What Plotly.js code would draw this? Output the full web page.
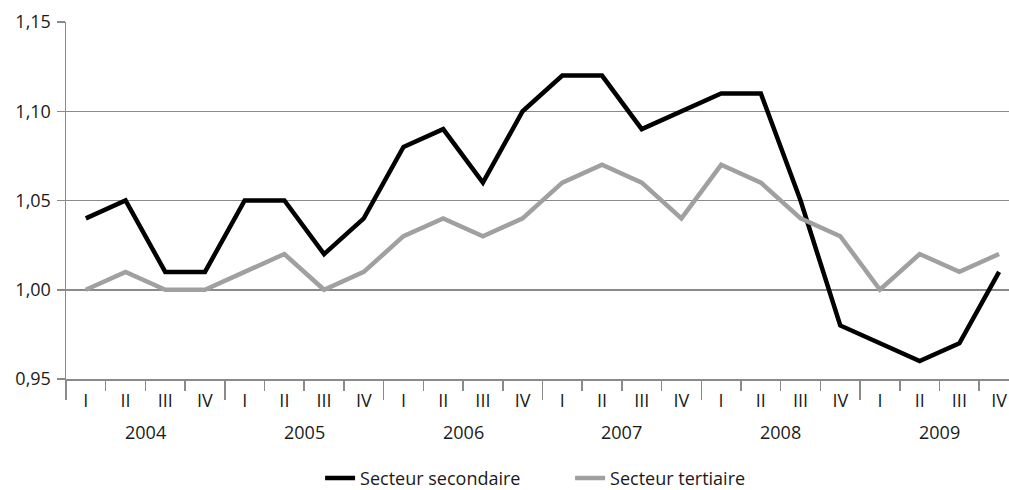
<!DOCTYPE html>
<html><head><meta charset="utf-8">
<script src="https://cdn.plot.ly/plotly-3.0.1.min.js"></script>
<style>html,body{margin:0;padding:0;background:#fff}</style>
</head><body><div id="chart" style="width:1009px;height:490px"></div>
<script>
const years = ["2004","2005","2006","2007","2008","2009"];
const quarters = ["I","II","III","IV"];
const secondaire = [1.04,1.05,1.01,1.01, 1.05,1.05,1.02,1.04, 1.08,1.09,1.06,1.10, 1.12,1.12,1.09,1.10, 1.11,1.11,1.05,0.98, 0.97,0.96,0.97,1.01];
const tertiaire  = [1.00,1.01,1.00,1.00, 1.01,1.02,1.00,1.01, 1.03,1.04,1.03,1.04, 1.06,1.07,1.06,1.04, 1.07,1.06,1.04,1.03, 1.00,1.02,1.01,1.02];
const yTicks = [0.95,1.00,1.05,1.10,1.15];

const n = secondaire.length;
const idx = [...Array(n).keys()];
const qLabels = idx.map(i => quarters[i % 4]);
const bounds = [...Array(n + 1).keys()].map(i => i - 0.5);
const yearBounds = bounds.filter((b, i) => i % 4 === 0);
const font = {family: "Open Sans, DejaVu Sans, sans-serif", size: 18, color: "#1a1a1a"};
const xr = [-0.5, 23.25];

const traces = [
  {x: idx, y: secondaire, type: "scatter", mode: "lines", name: "Secteur secondaire",
   line: {color: "#000000", width: 4.5}, xaxis: "x", yaxis: "y"},
  {x: idx, y: tertiaire, type: "scatter", mode: "lines", name: "Secteur tertiaire",
   line: {color: "#a0a0a0", width: 4.5}, xaxis: "x", yaxis: "y"}
];
traces.push({x: [0], y: [1], xaxis: "x2", yaxis: "y", mode: "markers", marker: {opacity: 0}, showlegend: false, hoverinfo: "skip"});
traces.push({x: [0], y: [1], xaxis: "x3", yaxis: "y", mode: "markers", marker: {opacity: 0}, showlegend: false, hoverinfo: "skip"});

const annotations = years.map((yr, k) => ({
  text: yr, x: 4 * k + 1.5, xref: "x", y: -0.148, yref: "paper",
  showarrow: false, yanchor: "middle", xanchor: "center", font: font
}));

const layout = {
  width: 1009, height: 490,
  margin: {l: 66, r: 0, t: 22, b: 111},
  paper_bgcolor: "#fff", plot_bgcolor: "#fff",
  separators: ", ",
  showlegend: true,
  legend: {orientation: "h", x: 0.565, xref: "container", xanchor: "center",
           y: 0.024, yref: "container", yanchor: "middle",
           font: font, tracegroupgap: 0, entrywidth: 205},
  xaxis: {range: xr, tickmode: "array", tickvals: bounds, ticks: "outside", ticklen: 10,
          tickwidth: 1.5, tickcolor: "#8a8a8a", showticklabels: false, showgrid: false,
          zeroline: false, showline: true, linecolor: "#8a8a8a", linewidth: 1.5, fixedrange: true},
  xaxis2: {range: xr, overlaying: "x", side: "bottom", tickmode: "array", tickvals: idx, ticktext: qLabels,
           ticks: "", showgrid: false, zeroline: false, showline: false, tickfont: font,
           ticklabelstandoff: 9},
  xaxis3: {range: xr, overlaying: "x", side: "bottom", tickmode: "array", tickvals: yearBounds,
           ticks: "outside", ticklen: 20, tickwidth: 1.5, tickcolor: "#8a8a8a",
           showticklabels: false, showgrid: false, zeroline: false, showline: false},
  yaxis: {range: [0.95, 1.15], tickmode: "array", tickvals: yTicks, tickformat: ".2f",
          ticks: "outside", ticklen: 8, tickwidth: 1.5, tickcolor: "#8a8a8a",
          showgrid: true, gridcolor: "#8a8a8a", gridwidth: 1.5, zeroline: false,
          showline: true, linecolor: "#8a8a8a", linewidth: 1.5, tickfont: font, ticklabelstandoff: 2},
  annotations: annotations
};
Plotly.newPlot("chart", traces, layout, {displayModeBar: false, staticPlot: true});
</script></body></html>
